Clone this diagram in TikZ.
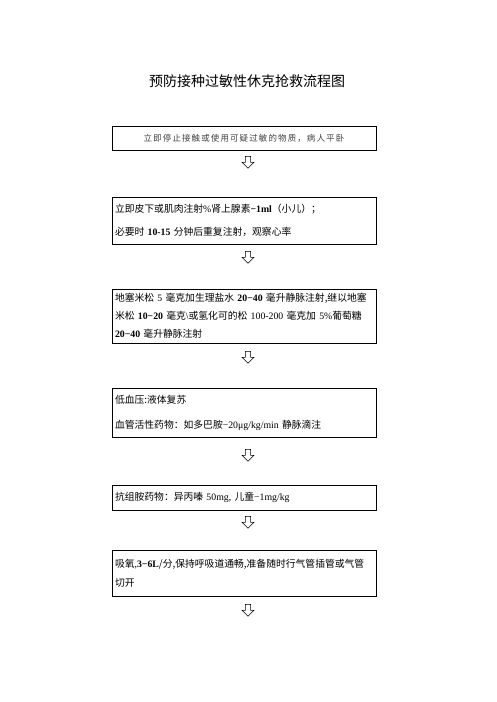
\documentclass[tikz,border=0pt]{standalone}
\usepackage{fontspec}
\setmainfont{Liberation Serif}
\newfontfamily\cjk{Noto Sans CJK SC}
\newfontfamily\cjkspaced[LetterSpace=13]{Noto Sans CJK SC}
\usetikzlibrary{shapes.arrows}
\tikzset{
  box/.style={draw=black, line width=1pt, minimum width=264pt, text width=258pt, align=left, inner sep=0pt, font=\fontsize{9.8}{12}\selectfont},
  downarrow/.style={single arrow, draw=black, line width=0.6pt, fill=white, shape border rotate=270, minimum height=12pt, inner sep=2.3pt, single arrow head extend=3.4pt, single arrow head indent=0pt},
  titletext/.style={font=\cjk\fontsize{14}{16}\selectfont}
}
\begin{document}
\begin{tikzpicture}[x=1pt, y=-1pt]
\useasboundingbox (0,0) rectangle (496,702);
\node[titletext] (title) at (247,81) {预防接种过敏性休克抢救流程图};

\node[box, minimum height=24pt, align=center] (b1) at (244,138)
  {\color{black!75}\cjkspaced\fontsize{8.5}{10}\selectfont 立即停止接触或使用可疑过敏的物质，病人平卧};
\node[downarrow] (a1) at (248,161) {};

\node[box, minimum height=47pt] (b2) at (244,220.5)
  {{\cjk 立即皮下或肌肉注射}\%{\cjk 肾上腺素}\textbf{−1ml}{\cjk （小儿）；}\\[11pt]
   {\cjk 必要时} \textbf{10-15} {\cjk 分钟后重复注射，观察心率}};
\node[downarrow] (a2) at (248,256) {};

\node[box, minimum height=54pt] (b3) at (244,316)
  {\mbox{{\cjk 地塞米松} 5 {\cjk 毫克加生理盐水} \textbf{20−40} {\cjk 毫升静脉注射,继以地塞}}\\[6pt]
   \mbox{{\cjk 米松} \textbf{10−20} {\cjk 毫克}\textbackslash{\cjk 或氢化可的松} 100-200 {\cjk 毫克加} 5\%{\cjk 葡萄糖}}\\[6pt]
   \textbf{20−40} {\cjk 毫升静脉注射}};
\node[downarrow] (a3) at (248,356) {};

\node[box, minimum height=49pt] (b4) at (244,412.5)
  {{\cjk 低血压:液体复苏}\\[13pt]
   {\cjk 血管活性药物：如多巴胺}−20μg/kg/min {\cjk 静脉滴注}};
\node[downarrow] (a4) at (248,454) {};

\node[box, minimum height=25pt] (b5) at (244,497.5)
  {{\cjk 抗组胺药物：异丙嗪} 50mg, {\cjk 儿童}−1mg/kg};
\node[downarrow] (a5) at (248,521) {};

\node[box, minimum height=46pt] (b6) at (244,573)
  {{\cjk 吸氧},\textbf{3−6L}{\cjk /分,保持呼吸道通畅,准备随时行气管插管或气管}\\[7pt]
   {\cjk 切开}};
\node[downarrow] (a6) at (248,609) {};
\end{tikzpicture}
\end{document}
